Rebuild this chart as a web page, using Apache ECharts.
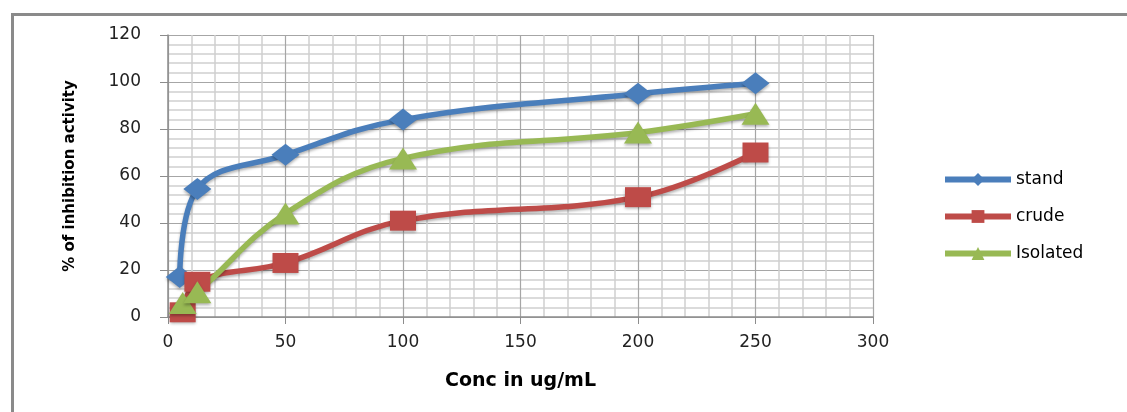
<!DOCTYPE html>
<html>
<head>
<meta charset="utf-8">
<script src="https://cdn.jsdelivr.net/npm/echarts@6/dist/echarts.min.js"></script>
<style>html,body{margin:0;padding:0;background:#fff;}#c{width:1127px;height:412px;}</style>
</head>
<body>
<div id="c"></div>
<script>
const seriesNames = ['stand', 'crude', 'Isolated'];
const standX = [5, 12.5, 50, 100, 200, 250];
const sampleX = [6.25, 12.5, 50, 100, 200, 250];
const standY = [17, 54.5, 69, 84, 95, 99.5];
const crudeY = [2, 15, 23, 41, 51, 70];
const isolatedY = [6, 10.5, 44, 67.5, 78.5, 86.5];
const xTicks = [0, 50, 100, 150, 200, 250, 300];
const yTicks = [0, 20, 40, 60, 80, 100, 120];

const colors = ['#4a7ebb', '#be4b48', '#98b954'];
const symbols = ['diamond', 'rect', 'triangle'];
const xs = [standX, sampleX, sampleX];
const ys = [standY, crudeY, isolatedY];

const chart = echarts.init(document.getElementById('c'));
chart.setOption({
  animation: false,
  graphic: [{
    type: 'rect', left: 10, top: 12, silent: true, z: -10,
    shape: { x: 0, y: 0, width: 1300, height: 600 },
    style: { fill: 'none', stroke: '#8a8a8a', lineWidth: 3 }
  }],
  grid: { left: 168, top: 35, right: 1127 - 873, bottom: 412 - 317 },
  legend: {
    orient: 'vertical', left: 937, top: 166,
    itemWidth: 66, itemHeight: 16, itemGap: 20,
    data: seriesNames,
    lineStyle: { width: 6 },
    textStyle: { fontFamily: 'DejaVu Sans', fontSize: 17, color: '#000' }
  },
  xAxis: {
    type: 'value', min: xTicks[0], max: xTicks[xTicks.length - 1], interval: 50,
    name: 'Conc in ug/mL', nameLocation: 'middle', nameGap: 55,
    nameTextStyle: { fontFamily: 'DejaVu Sans', fontWeight: 'bold', fontSize: 19, color: '#000' },
    axisLine: { show: true, lineStyle: { color: '#8c8c8c', width: 1.5 } },
    axisTick: { show: true, length: 7, lineStyle: { color: '#8c8c8c' } },
    axisLabel: { margin: 17, fontFamily: 'DejaVu Sans', fontSize: 17, color: '#222' },
    splitLine: { show: true, lineStyle: { color: '#a6a6a6', width: 1.2 } },
    minorTick: { show: false, splitNumber: 5 },
    minorSplitLine: { show: true, lineStyle: { color: '#cfcfcf', width: 1.5 } }
  },
  yAxis: {
    type: 'value', min: yTicks[0], max: yTicks[yTicks.length - 1], interval: 20,
    name: '% of inhibition activity', nameLocation: 'middle', nameGap: 90, nameRotate: 90,
    nameTextStyle: { fontFamily: 'DejaVu Sans', fontSize: 15, fontWeight: 'bold', color: '#000' },
    axisLine: { show: true, lineStyle: { color: '#8c8c8c', width: 1.5 } },
    axisTick: { show: true, length: 8, lineStyle: { color: '#8c8c8c' } },
    axisLabel: { margin: 27, fontFamily: 'DejaVu Sans', fontSize: 17, color: '#222' },
    splitLine: { show: true, lineStyle: { color: '#a6a6a6', width: 1.2 } },
    minorTick: { show: false, splitNumber: 5 },
    minorSplitLine: { show: true, lineStyle: { color: '#cfcfcf', width: 1.5 } }
  },
  series: seriesNames.map((n, i) => ({
    name: n, type: 'line', smooth: 0.4,
    data: xs[i].map((x, j) => [x, ys[i][j]]),
    symbol: symbols[i],
    symbolSize: i === 0 ? [28, 22] : (i === 1 ? [26, 20] : [28, 22]),
    itemStyle: { color: colors[i], shadowBlur: 3, shadowColor: 'rgba(0,0,0,0.3)', shadowOffsetY: 2 },
    lineStyle: { color: colors[i], width: 5.5, shadowBlur: 3, shadowColor: 'rgba(0,0,0,0.3)', shadowOffsetY: 2 }
  }))
});
</script>
</body>
</html>
